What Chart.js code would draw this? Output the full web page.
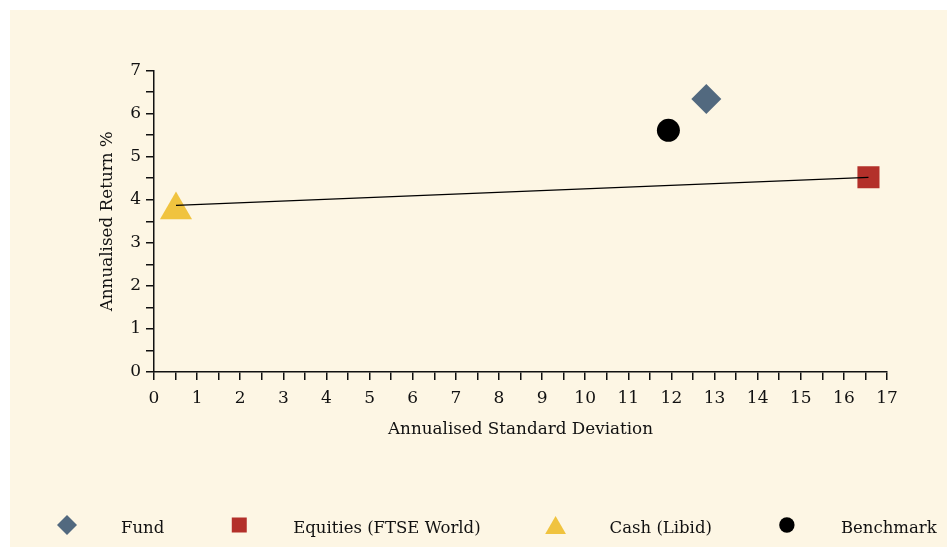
<!DOCTYPE html>
<html>
<head>
<meta charset="utf-8">
<script src="https://cdn.jsdelivr.net/npm/chart.js@4.4.1/dist/chart.umd.min.js"></script>
<style>
    html, body { margin: 0; padding: 0; background: #ffffff; }
    #panel { position: absolute; left: 10px; top: 10px; width: 937px; height: 537px; background: #fdf6e4; }
    canvas { display: block; }
</style>
</head>
<body>
<div id="panel"><canvas id="riskChart" width="937" height="537"></canvas></div>
<script>
// values
const seriesNames = ['Fund', 'Equities (FTSE World)', 'Cash (Libid)', 'Benchmark'];
const stdDev = [12.81, 16.57, 0.51, 11.93];
const annReturn = [6.34, 4.52, 3.76, 5.61];
const lineStdDev = [0.51, 16.57];
const lineReturn = [3.87, 4.52];
const xRange = [0, 17];
const yRange = [0, 7];

// marker look for each series
const markerStyles = ['rectRot', 'rect', 'triangle', 'circle'];
const markerColors = ['#52697f', '#b3302a', '#f0c33f', '#000000'];
const markerRadius = [15, 15.6, 18.5, 11.5];
const legendRadius = [10, 10.6, 12, 7.7];

const FONT = '"DejaVu Serif", serif';
const TEXT = '#111111';

const datasets = [
    {
        type: 'line',
        label: 'line',
        data: lineStdDev.map((x, i) => ({ x, y: lineReturn[i] })),
        borderColor: '#000000',
        borderWidth: 1.3,
        pointRadius: 0,
        fill: false,
        tension: 0,
    },
];
seriesNames.forEach((name, i) => {
    datasets.push({
        label: name,
        data: [{ x: stdDev[i], y: annReturn[i] }],
        pointStyle: markerStyles[i],
        pointRadius: markerRadius[i],
        pointHoverRadius: markerRadius[i],
        backgroundColor: markerColors[i],
        borderColor: markerColors[i],
        borderWidth: 0,
        legendRadius: legendRadius[i],
    });
});

// legend drawn along the bottom: marker, gap, text, gap
const bottomLegend = {
    id: 'bottomLegend',
    afterDraw(chart) {
        const ctx = chart.ctx;
        ctx.save();
        ctx.font = '16.5px ' + FONT;
        ctx.textBaseline = 'middle';
        ctx.textAlign = 'left';
        let x = 57;
        const y = 515;
        chart.data.datasets.forEach((ds) => {
            if (ds.type === 'line') return;
            ctx.fillStyle = ds.backgroundColor;
            ctx.strokeStyle = ds.backgroundColor;
            Chart.helpers.drawPoint(ctx, { pointStyle: ds.pointStyle, radius: ds.legendRadius, rotation: 0, borderWidth: 0 }, x, ds.pointStyle === 'triangle' ? y + 3 : y);
            ctx.fillStyle = TEXT;
            ctx.fillText(ds.label, x + 54, y + 3.5);
            x += 54 + ctx.measureText(ds.label).width + 75;
        });
        ctx.restore();
    },
};

const axisColor = '#111111';

new Chart(document.getElementById('riskChart').getContext('2d'), {
    type: 'scatter',
    data: { datasets },
    options: {
        responsive: false,
        animation: false,
        layout: { padding: { left: 0, right: 60, top: 60.5, bottom: 95 } },
        plugins: {
            legend: { display: false },
            tooltip: { enabled: false },
        },
        scales: {
            x: {
                type: 'linear',
                min: xRange[0],
                max: xRange[1],
                afterFit(scale) { scale.height = 80; },
                border: { display: true, color: axisColor, width: 1.5 },
                grid: { drawOnChartArea: false, color: axisColor, lineWidth: 1.5, tickLength: 8 },
                ticks: {
                    stepSize: 0.5,
                    autoSkip: false,
                    maxRotation: 0,
                    padding: 8,
                    color: TEXT,
                    font: { family: FONT, size: 17 },
                    callback: (v) => (Number.isInteger(v) ? String(v) : ''),
                },
                title: {
                    display: true,
                    text: 'Annualised Standard Deviation',
                    color: TEXT,
                    font: { family: FONT, size: 16.8 },
                    padding: { top: 4, bottom: 12 },
                },
            },
            y: {
                type: 'linear',
                min: yRange[0],
                max: yRange[1],
                afterFit(scale) { scale.width = 144; },
                border: { display: true, color: axisColor, width: 1.5 },
                grid: { drawOnChartArea: false, color: axisColor, lineWidth: 1.5, tickLength: 8 },
                ticks: {
                    stepSize: 0.5,
                    autoSkip: false,
                    padding: 5,
                    color: TEXT,
                    font: { family: FONT, size: 17 },
                    callback: (v) => (Number.isInteger(v) ? String(v) : ''),
                },
                title: {
                    display: true,
                    text: 'Annualised Return %',
                    color: TEXT,
                    font: { family: FONT, size: 16.8 },
                    padding: { top: 88, bottom: 0 },
                },
            },
        },
    },
    plugins: [bottomLegend],
});
</script>
</body>
</html>
